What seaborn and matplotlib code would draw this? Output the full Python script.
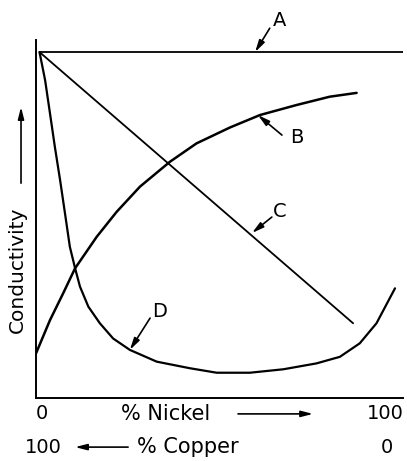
import numpy as np
import pandas as pd
import seaborn as sns
import matplotlib.pyplot as plt

# curves (x = % nickel, y = relative conductivity)
a_x = [1.0, 105.5]
a_y = [100, 100]

b_x = [0, 4.0, 7.8, 11.2, 17.4, 23.1, 29.8, 38.4, 46.0, 55.6, 64.2, 74.7, 84.2, 91.9]
b_y = [12.9, 22.5, 30.3, 37.5, 46.6, 53.8, 61.1, 68.3, 73.6, 78.2, 81.8, 84.7, 87.1, 88.2]

c_x = [1.0, 90.9]
c_y = [100, 21.6]

d_x = [1.0, 2.6, 4.0, 5.4, 6.9, 8.3, 9.7, 11.2, 12.6, 15.0, 18.3, 22.1, 26.9, 34.6,
       44.1, 51.8, 61.3, 70.9, 80.4, 87.1, 92.8, 97.6, 102.9]
d_y = [100, 91.9, 82.3, 72.6, 63.0, 53.4, 43.7, 37.5, 32.2, 26.4, 21.6, 17.2, 13.9, 10.5,
       8.6, 7.3, 7.3, 8.3, 10.0, 11.9, 15.8, 21.6, 31.7]

labels = ["A", "B", "C", "D"]
# (label pos, arrow tail, arrow head)
label_pos = [(69.9, 109.2), (74.8, 75.4), (69.9, 53.8), (35.5, 24.9)]
arrow_tail = [(67.0, 106.9), (70.5, 76.0), (67.6, 52.3), (32.7, 23.1)]
arrow_head = [(62.8, 100.0), (63.6, 81.8), (61.9, 47.7), (26.9, 13.9)]

sns.set_style("white")
plt.rcParams['font.family'] = ['DejaVu Sans']
plt.rcParams['text.color'] = 'black'

fig = plt.figure(figsize=(4.07, 4.61), dpi=100)
ax = fig.add_axes([0.0885, 0.1367, 0.9017, 0.7766])

curves = [(a_x, a_y, 1.3), (b_x, b_y, 1.8), (c_x, c_y, 1.3), (d_x, d_y, 1.6)]
for xs, ys, lw in curves:
    sns.lineplot(x=xs, y=ys, ax=ax, color="black", lw=lw, sort=False, estimator=None,
                 solid_joinstyle="round", solid_capstyle="round")

ax.set_xlim(0, 105.2)
ax.set_ylim(0, 103.5)
sns.despine(ax=ax)
for side in ["left", "bottom"]:
    ax.spines[side].set_color("black")
    ax.spines[side].set_linewidth(1.4)

ax.set_xticks([100])
ax.set_xticklabels([])
ax.set_yticks([])
ax.tick_params(axis="x", direction="inout", length=8, width=1.2, color="black")

arrow = dict(arrowstyle="-|>,head_length=0.7,head_width=0.18", color="black", lw=1.2,
             shrinkA=0, shrinkB=0)

for lab, pos, tail, head in zip(labels, label_pos, arrow_tail, arrow_head):
    ax.text(pos[0], pos[1], lab, fontsize=14, ha="center", va="center", color="black")
    ax.annotate("", xy=head, xytext=tail, arrowprops=arrow, annotation_clip=False)

# axis titles and end values
row1, row2 = -4.6, -14.2
ax.text(1.7, row1, "0", fontsize=14, ha="center", va="center", color="black")
ax.text(100, row1, "100", fontsize=14, ha="center", va="center", color="black")
ax.text(37.2, row1, "% Nickel", fontsize=15, ha="center", va="center", color="black")
ax.annotate("", xy=(79.4, row1), xytext=(57.9, row1), arrowprops=arrow, annotation_clip=False)

ax.text(2.0, row2, "100", fontsize=14, ha="center", va="center", color="black")
ax.text(100.6, row2, "0", fontsize=14, ha="center", va="center", color="black")
ax.text(43.6, row2, "% Copper", fontsize=15, ha="center", va="center", color="black")
ax.annotate("", xy=(11.2, row2), xytext=(26.4, row2), arrowprops=arrow, annotation_clip=False)

ax.text(-5.4, 37, "Conductivity", fontsize=14.5, rotation=90, ha="center", va="center",
        color="black")
ax.annotate("", xy=(-4.3, 84.1), xytext=(-4.3, 62.1), arrowprops=arrow, annotation_clip=False)

fig.savefig("out.png", dpi=100)
